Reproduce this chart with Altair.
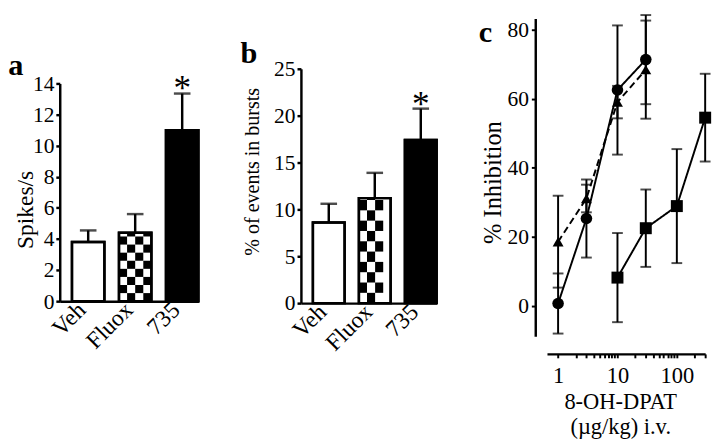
import math
import altair as alt
import pandas as pd

SERIF = "Liberation Serif"

# ---- data ----
groups = ["Veh", "Fluox", "735"]
group_fill = ["white", "white", "black"]
spikes = [3.8, 4.4, 11.0]
spikes_err = [0.75, 1.2, 2.35]
bursts = [8.6, 11.2, 17.4]
bursts_err = [2.0, 2.7, 3.35]

dose_ab = [1, 3, 10, 30]
circ = [0.7, 25.3, 62.5, 71.3]
circ_err = [8.7, 11.3, 18.7, 12.9]
tri = [18.6, 31.1, 59.0, 68.4]
tri_err = [13.3, 4.0, 4.7, 14.2]
dose_sq = [10, 30, 100, 300]
sq = [8.2, 22.5, 28.9, 54.5]
sq_err = [12.9, 11.2, 16.5, 12.7]

x_tick_values = [1, 2, 3, 4, 5, 6, 7, 8, 9, 10, 20, 30, 40, 50, 60, 70, 80, 90, 100, 200, 300]


def bar_panel(values, errs, ytitle, title_size, letter, ymax, ystep, width, height, ytop_px,
              ncols, cell, title_x, title_y, letter_x, letter_y, star_dy):
    df = pd.DataFrame({"group": groups, "value": values, "err": errs, "fill": group_fill})
    df["top"] = df["value"] + df["err"]

    xs = alt.Scale(domain=groups, paddingInner=0.31, paddingOuter=0.13, align=1)
    xa = alt.Axis(title=None, ticks=False, domainWidth=2.5, domainColor="black",
                  labelAngle=-45, labelAlign="right", labelBaseline="middle", labelPadding=5,
                  labelOffset=-6, labelFont=SERIF, labelFontSize=24, labelColor="black")
    ys = alt.Scale(domain=[0, ymax], range=[height, ytop_px], nice=False)
    ya = alt.Axis(values=list(range(0, ymax + 1, ystep)), title=ytitle, grid=False,
                  domainWidth=2.5, domainColor="black", tickColor="black", tickWidth=2.5,
                  tickSize=4, labelFont=SERIF, labelFontSize=22, labelColor="black",
                  labelPadding=2, titleFont=SERIF, titleFontSize=title_size,
                  titleFontWeight="normal",
                  titleColor="black", titleX=title_x, titleY=title_y, titleAngle=270,
                  titleBaseline="middle", titleAlign="center")
    X = alt.X("group:N", sort=groups, scale=xs, axis=xa)

    base = alt.Chart(df).encode(x=X)
    bars = base.mark_bar(stroke="black", strokeWidth=2.5).encode(
        y=alt.Y("value:Q", scale=ys, axis=ya),
        fill=alt.Fill("fill:N", scale=None))

    fl = values[1]
    nrows = int(math.ceil(fl / cell))
    rows = []
    for r in range(nrows):
        for c in range(ncols):
            if (r + c) % 2 == 1:
                rows.append({"group": "Fluox", "col": c, "y0": r * cell,
                             "y1": min((r + 1) * cell, fl)})
    cells = alt.Chart(pd.DataFrame(rows)).mark_rect(color="black").encode(
        x=X,
        xOffset=alt.XOffset("col:O", scale=alt.Scale(paddingInner=0, paddingOuter=0)),
        y=alt.Y("y0:Q", scale=ys, axis=ya), y2="y1:Q")

    outline = base.mark_bar(fillOpacity=0, stroke="black", strokeWidth=2.5).encode(
        y=alt.Y("value:Q", scale=ys, axis=ya))
    err = base.mark_rule(color="black", strokeWidth=2.5).encode(
        y=alt.Y("value:Q", scale=ys, axis=ya), y2="top:Q")
    cap = base.mark_tick(color="black", thickness=2.5, size=17).encode(
        y=alt.Y("top:Q", scale=ys, axis=ya))
    star = base.transform_filter(alt.datum.group == "735").mark_text(
        text="*", font=SERIF, fontSize=36, dy=star_dy, color="black").encode(
        y=alt.Y("top:Q", scale=ys, axis=ya))
    lab = alt.Chart(pd.DataFrame({"t": [letter]})).mark_text(
        font=SERIF, fontSize=31, fontWeight="bold", align="left", baseline="alphabetic",
        color="black").encode(x=alt.value(letter_x), y=alt.value(letter_y), text="t:N")

    return alt.layer(bars, cells, outline, err, cap, star, lab).properties(
        width=width, height=height)


panel_a = bar_panel(spikes, spikes_err, "Spikes/s", 24, "a", 14, 2, 142, 291, 68,
                    4, 0.52, -34.7, 197, -52.7, 59, -4)
panel_b = bar_panel(bursts, bursts_err, "% of events in bursts", 20.5, "b", 25, 5, 139, 293, 53,
                    3, 1.1, -49.7, 158, -62, 47, -3)

# ---- panel c ----
rows = []
for name, xs_, ys_, es_ in [("circle", dose_ab, circ, circ_err),
                            ("triangle", dose_ab, tri, tri_err),
                            ("square", dose_sq, sq, sq_err)]:
    for x, y, e in zip(xs_, ys_, es_):
        rows.append({"series": name, "dose": x, "inh": y, "lo": y - e, "hi": y + e})
dfc = pd.DataFrame(rows)

xsc = alt.Scale(type="log", domain=[0.65, 300], nice=False)
ysc = alt.Scale(domain=[-8.8, 83.2], range=[327, 1.5], nice=False, zero=False)
xac = alt.Axis(values=x_tick_values,
               labelExpr="(datum.value == 1 || datum.value == 10 || datum.value == 100) ? format(datum.value, 'd') : ''",
               offset=18, grid=False, domainWidth=2.5, domainColor="black", tickColor="black",
               tickWidth=2, tickSize=4, labelFont=SERIF, labelFontSize=23, labelColor="black",
               labelPadding=7, labelOverlap=False, labelFlush=False,
               title=["8-OH-DPAT", "(µg/kg) i.v."], titleFont=SERIF, titleFontSize=23,
               titleFontWeight="normal", titleColor="black", titleLineHeight=26,
               titleX=75, titleY=38, titleBaseline="top", titleAlign="center")
yac = alt.Axis(values=[0, 20, 40, 60, 80], offset=12, grid=False, domainWidth=2.5,
               domainColor="black", tickColor="black", tickWidth=2, tickSize=4,
               labelFont=SERIF, labelFontSize=22, labelColor="black", labelPadding=3,
               title="% Inhibition", titleFont=SERIF, titleFontSize=25, titleFontWeight="normal",
               titleColor="black", titleX=-44, titleY=169, titleAngle=270,
               titleBaseline="middle", titleAlign="center")
XC = alt.X("dose:Q", scale=xsc, axis=xac)
basec = alt.Chart(dfc)

lines = basec.mark_line(color="black", strokeWidth=2).encode(
    x=XC, y=alt.Y("inh:Q", scale=ysc, axis=yac), detail="series:N",
    strokeDash=alt.StrokeDash("series:N", legend=None,
                              scale=alt.Scale(domain=["circle", "triangle", "square"],
                                              range=[[1, 0], [7, 4], [1, 0]])))
ebar = basec.mark_rule(color="black", strokeWidth=2).encode(
    x=XC, y=alt.Y("lo:Q", scale=ysc, axis=yac), y2="hi:Q")
cap_hi = basec.mark_tick(color="black", orient="horizontal", size=11, thickness=2).encode(
    x=XC, y=alt.Y("hi:Q", scale=ysc, axis=yac))
cap_lo = basec.mark_tick(color="black", orient="horizontal", size=11, thickness=2).encode(
    x=XC, y=alt.Y("lo:Q", scale=ysc, axis=yac))


def marker(name, shape, size):
    return basec.transform_filter(alt.datum.series == name).mark_point(
        shape=shape, size=size, filled=True, opacity=1, color="black").encode(
        x=XC, y=alt.Y("inh:Q", scale=ysc, axis=yac))


lab_c = alt.Chart(pd.DataFrame({"t": ["c"]})).mark_text(
    font=SERIF, fontSize=31, fontWeight="bold", align="left", baseline="alphabetic",
    color="black").encode(x=alt.value(-70), y=alt.value(25.5), text="t:N")

panel_c = alt.layer(lines, ebar, cap_hi, cap_lo,
                    marker("circle", "circle", 140),
                    marker("triangle", "triangle-up", 125),
                    marker("square", "square", 150),
                    lab_c).properties(width=162, height=327)

chart = alt.hconcat(panel_a, panel_b, panel_c, spacing=41).properties(
    padding=0, background="white").configure_view(strokeWidth=0)

chart.save("out.html", embed_options={"renderer": "svg", "actions": False})
